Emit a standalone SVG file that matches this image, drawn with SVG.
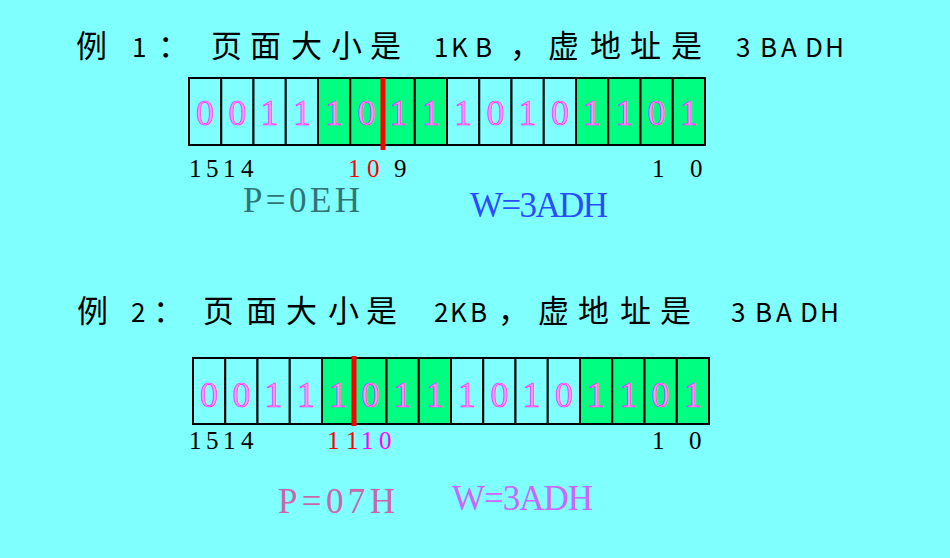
<svg xmlns="http://www.w3.org/2000/svg" width="950" height="558" viewBox="0 0 950 558">
<style>
.cjk{font-family:"Noto Sans CJK SC","Noto Sans CJK JP",sans-serif;font-size:31px;fill:#000}
.lat{font-size:26px}
.c{stroke:#000;stroke-width:2}
.lt{fill:#80ffff}
.gr{fill:#00ff80}
.bit{font-family:"Liberation Serif",serif;font-size:36px;fill:#ff99ff;stroke:#ff22ff;stroke-width:0.7;text-anchor:middle}
.lbl{font-family:"Liberation Serif",serif;font-size:25px;fill:#000}
.big{font-family:"Liberation Serif",serif;font-size:35px}
.red{fill:#ff0000}
.mag{fill:#ff00ff}
.div{fill:#ff0000}
</style>
<rect width="950" height="558" fill="#80ffff"/>

<g id="title1">
<text class="cjk" y="57"><tspan x="76 108">例 </tspan><tspan class="lat" x="132">1</tspan><tspan x="158 186 211 250 291 331 370 408">： 页面大小是 </tspan><tspan class="lat" x="434 451 475">1KB</tspan><tspan x="510 540 548 590 630 671 712">， 虚地址是 </tspan><tspan class="lat" x="736 760 781 805 825">3BADH</tspan></text>
</g>

<g id="row1">
<rect class="c lt" x="189" y="78" width="32.25" height="67"/>
<rect class="c lt" x="221.25" y="78" width="32.25" height="67"/>
<rect class="c lt" x="253.5" y="78" width="32.25" height="67"/>
<rect class="c lt" x="285.75" y="78" width="32.25" height="67"/>
<rect class="c gr" x="318" y="78" width="32.25" height="67"/>
<rect class="c gr" x="350.25" y="78" width="32.25" height="67"/>
<rect class="c gr" x="382.5" y="78" width="32.25" height="67"/>
<rect class="c gr" x="414.75" y="78" width="32.25" height="67"/>
<rect class="c lt" x="447" y="78" width="32.25" height="67"/>
<rect class="c lt" x="479.25" y="78" width="32.25" height="67"/>
<rect class="c lt" x="511.5" y="78" width="32.25" height="67"/>
<rect class="c lt" x="543.75" y="78" width="32.25" height="67"/>
<rect class="c gr" x="576" y="78" width="32.25" height="67"/>
<rect class="c gr" x="608.25" y="78" width="32.25" height="67"/>
<rect class="c gr" x="640.5" y="78" width="32.25" height="67"/>
<rect class="c gr" x="672.75" y="78" width="32.25" height="67"/>
<text class="bit" y="125" x="205.1 237.4 269.6 301.9 334.1 366.4 398.6 430.9 463.1 495.4 527.6 559.9 592.1 624.4 656.6 688.9">0011101110101101</text>
<rect class="div" x="380.5" y="78" width="5" height="72"/>
</g>

<g id="labels1">
<text class="lbl" y="177" x="189 206 223 241">1514</text>
<text class="lbl red" y="177" x="348 367">10</text>
<text class="lbl" y="177" x="394">9</text>
<text class="lbl" y="177" x="652">1</text>
<text class="lbl" y="177" x="690">0</text>
<text class="big" x="243" y="212" fill="#2f7575" textLength="117" lengthAdjust="spacing">P=0EH</text>
<text class="big" x="470" y="217" fill="#2a4cff" textLength="138" lengthAdjust="spacing">W=3ADH</text>
</g>

<g id="title2">
<text class="cjk" y="322"><tspan x="77 110">例 </tspan><tspan class="lat" x="131">2</tspan><tspan x="153 180 203 246 286 328 366 405">： 页面大小是 </tspan><tspan class="lat" x="434 450 470">2KB</tspan><tspan x="498 530 538 578 620 660 703">， 虚地址是 </tspan><tspan class="lat" x="731 755 776 800 820">3BADH</tspan></text>
</g>

<g id="row2">
<rect class="c lt" x="193" y="358" width="32.25" height="66"/>
<rect class="c lt" x="225.25" y="358" width="32.25" height="66"/>
<rect class="c lt" x="257.5" y="358" width="32.25" height="66"/>
<rect class="c lt" x="289.75" y="358" width="32.25" height="66"/>
<rect class="c gr" x="322" y="358" width="32.25" height="66"/>
<rect class="c gr" x="354.25" y="358" width="32.25" height="66"/>
<rect class="c gr" x="386.5" y="358" width="32.25" height="66"/>
<rect class="c gr" x="418.75" y="358" width="32.25" height="66"/>
<rect class="c lt" x="451" y="358" width="32.25" height="66"/>
<rect class="c lt" x="483.25" y="358" width="32.25" height="66"/>
<rect class="c lt" x="515.5" y="358" width="32.25" height="66"/>
<rect class="c lt" x="547.75" y="358" width="32.25" height="66"/>
<rect class="c gr" x="580" y="358" width="32.25" height="66"/>
<rect class="c gr" x="612.25" y="358" width="32.25" height="66"/>
<rect class="c gr" x="644.5" y="358" width="32.25" height="66"/>
<rect class="c gr" x="676.75" y="358" width="32.25" height="66"/>
<text class="bit" y="407" x="209.1 241.4 273.6 305.9 338.1 370.4 402.6 434.9 467.1 499.4 531.6 563.9 596.1 628.4 660.6 692.9">0011101110101101</text>
<rect class="div" x="351.5" y="356" width="5" height="70"/>
</g>

<g id="labels2">
<text class="lbl" y="449" x="189 206 223 241">1514</text>
<text class="lbl red" y="449" x="327 346">11</text>
<text class="lbl mag" y="449" x="361 379">10</text>
<text class="lbl" y="449" x="652">1</text>
<text class="lbl" y="449" x="689">0</text>
<text class="big" x="278" y="513" fill="#cc66aa" textLength="117" lengthAdjust="spacing">P=07H</text>
<text class="big" x="452" y="510" fill="#cc66ff" textLength="141" lengthAdjust="spacing">W=3ADH</text>
</g>
</svg>
